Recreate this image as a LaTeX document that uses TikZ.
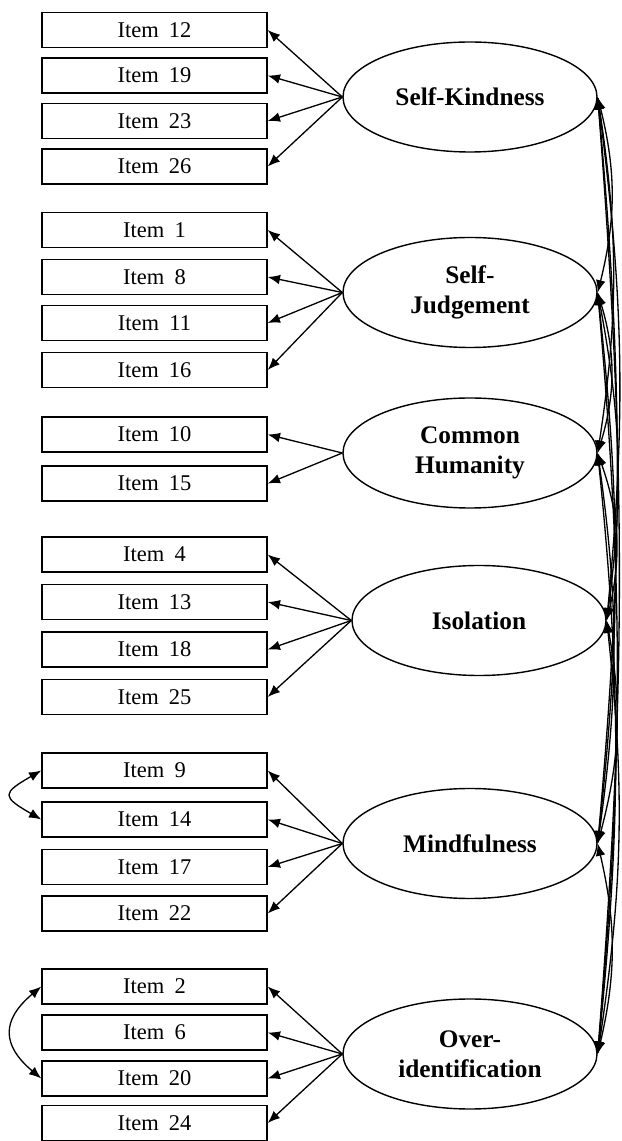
\documentclass[tikz,border=0pt]{standalone}
\usepackage{fontspec}
\setmainfont{Liberation Serif}
\newfontfamily\itemfont[WordSpace=1.8]{Liberation Serif}
\usepackage{tikz}
\usetikzlibrary{arrows.meta,shapes.geometric}

\begin{document}
\begin{tikzpicture}[
  item/.style={draw,line width=0.8pt,minimum width=4.5cm,minimum height=0.7cm,
               inner sep=0pt,font=\itemfont\fontsize{12.8}{15}\selectfont},
  factor/.style={draw,ellipse,line width=0.8pt,minimum width=5.08cm,minimum height=2.2cm,
                 inner sep=0pt,align=center,font=\bfseries\fontsize{14.4}{16.8}\selectfont},
  arr/.style={-{Latex[length=7pt,width=5.5pt]},line width=0.75pt},
  cov/.style={{Latex[length=7pt,width=5.5pt]}-{Latex[length=7pt,width=5.5pt]},line width=0.75pt}
]
\useasboundingbox (0,0) rectangle (12.44,22.82);

\node[item] (i12) at (3.09,22.22) {Item 12};
\node[item] (i19) at (3.09,21.31) {Item 19};
\node[item] (i23) at (3.09,20.40) {Item 23};
\node[item] (i26) at (3.09,19.49) {Item 26};
\node[factor] (sk) at (9.4,20.88) {Self-Kindness};
\draw[arr] (sk.west)--(i12.east);
\draw[arr] (sk.west)--(i19.east);
\draw[arr] (sk.west)--(i23.east);
\draw[arr] (sk.west)--(i26.east);

\node[item] (i1) at (3.09,18.22) {Item 1};
\node[item] (i8) at (3.09,17.28) {Item 8};
\node[item] (i11) at (3.09,16.36) {Item 11};
\node[item] (i16) at (3.09,15.42) {Item 16};
\node[factor] (sj) at (9.4,16.97) {Self-\\Judgement};
\draw[arr] (sj.west)--(i1.east);
\draw[arr] (sj.west)--(i8.east);
\draw[arr] (sj.west)--(i11.east);
\draw[arr] (sj.west)--(i16.east);

\node[item] (i10) at (3.09,14.13) {Item 10};
\node[item] (i15) at (3.09,13.15) {Item 15};
\node[factor] (ch) at (9.4,13.76) {Common\\Humanity};
\draw[arr] (ch.west)--(i10.east);
\draw[arr] (ch.west)--(i15.east);

\node[item] (i4) at (3.09,11.73) {Item 4};
\node[item] (i13) at (3.09,10.78) {Item 13};
\node[item] (i18) at (3.09,9.83) {Item 18};
\node[item] (i25) at (3.09,8.88) {Item 25};
\node[factor] (iso) at (9.58,10.41) {Isolation};
\draw[arr] (iso.west)--(i4.east);
\draw[arr] (iso.west)--(i13.east);
\draw[arr] (iso.west)--(i18.east);
\draw[arr] (iso.west)--(i25.east);

\node[item] (i9) at (3.09,7.41) {Item 9};
\node[item] (i14) at (3.09,6.43) {Item 14};
\node[item] (i17) at (3.09,5.48) {Item 17};
\node[item] (i22) at (3.09,4.55) {Item 22};
\node[factor] (mf) at (9.4,5.95) {Mindfulness};
\draw[arr] (mf.west)--(i9.east);
\draw[arr] (mf.west)--(i14.east);
\draw[arr] (mf.west)--(i17.east);
\draw[arr] (mf.west)--(i22.east);

\node[item] (i2) at (3.09,3.09) {Item 2};
\node[item] (i6) at (3.09,2.17) {Item 6};
\node[item] (i20) at (3.09,1.25) {Item 20};
\node[item] (i24) at (3.09,0.36) {Item 24};
\node[factor] (oi) at (9.4,1.74) {Over-\\identification};
\draw[arr] (oi.west)--(i2.east);
\draw[arr] (oi.west)--(i6.east);
\draw[arr] (oi.west)--(i20.east);
\draw[arr] (oi.west)--(i24.east);

\draw[cov] (i9.west) to[out=210,in=150,looseness=2.4] (i14.west);
\draw[cov] (i2.west) to[out=220,in=140,looseness=1.45] (i20.west);

\draw[cov] (sk.east) to[bend left=14] (sj.east);
\draw[cov] (sk.east) to[bend left=8.6] (ch.east);
\draw[cov] (sk.east) to[bend left=6.4] (iso.east);
\draw[cov] (sk.east) to[bend left=5.1] (mf.east);
\draw[cov] (sk.east) to[bend left=4.4] (oi.east);
\draw[cov] (sj.east) to[bend left=16.7] (ch.east);
\draw[cov] (sj.east) to[bend left=9.1] (iso.east);
\draw[cov] (sj.east) to[bend left=6.2] (mf.east);
\draw[cov] (sj.east) to[bend left=5] (oi.east);
\draw[cov] (ch.east) to[bend left=16.2] (iso.east);
\draw[cov] (ch.east) to[bend left=8] (mf.east);
\draw[cov] (ch.east) to[bend left=5.8] (oi.east);
\draw[cov] (iso.east) to[bend left=12.5] (mf.east);
\draw[cov] (iso.east) to[bend left=7.4] (oi.east);
\draw[cov] (mf.east) to[bend left=13.1] (oi.east);
\end{tikzpicture}
\end{document}
